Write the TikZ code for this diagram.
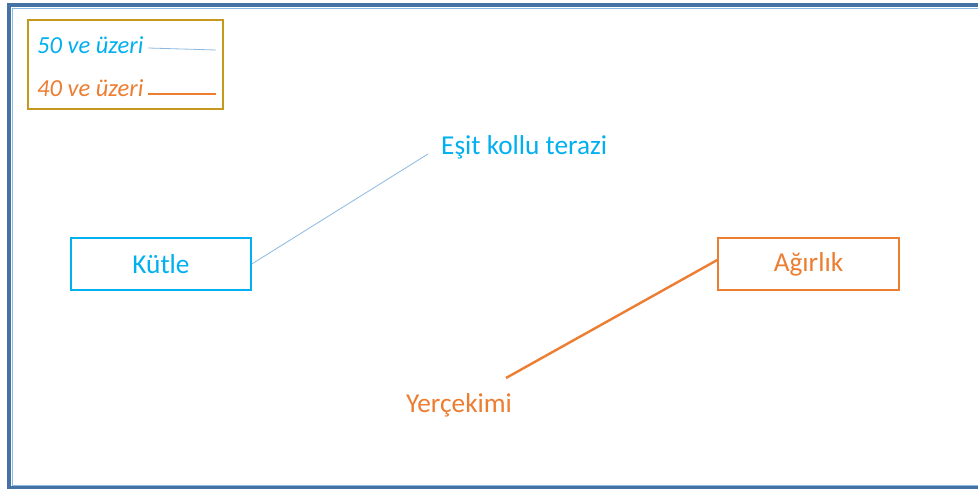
\documentclass[tikz,border=0pt]{standalone}
\usepackage{fontspec}
\setmainfont{Carlito}
\definecolor{tblue}{RGB}{0,176,240}
\definecolor{torange}{RGB}{237,125,49}
\definecolor{tgold}{RGB}{197,152,30}
\definecolor{tframe}{RGB}{68,114,164}
\definecolor{tthin}{RGB}{140,185,225}
\begin{document}
\begin{tikzpicture}[x=1pt,y=-1pt,
  bluebox/.style={draw=tblue,line width=1.5pt,minimum width=180pt,minimum height=52pt,text=tblue,font=\fontsize{27.3}{31}\selectfont,inner sep=0pt},
  orangebox/.style={draw=torange,line width=1.5pt,minimum width=181pt,minimum height=52pt,text=torange,font=\fontsize{27.3}{31}\selectfont,inner sep=0pt},
  lbl/.style={font=\fontsize{27.3}{31}\selectfont,inner sep=0pt},
  leg/.style={font=\itshape\fontsize{24.5}{28}\selectfont,inner sep=0pt,anchor=west}]
\useasboundingbox (0,0) rectangle (978,489);
\fill[white] (0,0) rectangle (978,489);
% outer frame
\fill[tframe] (7,3) rectangle (978,7);
\fill[tframe] (7,3) rectangle (11,489);
\fill[tframe] (7,486) rectangle (978,489);
\draw[tthin,line width=0.6pt] (12,8) -- (978,8);
\draw[tthin,line width=0.6pt] (12,8) -- (12,485);
\draw[tthin,line width=0.6pt] (12,485) -- (978,485);
% legend
\node[draw=tgold,line width=1.5pt,minimum width=195pt,minimum height=89pt,inner sep=0pt] (legend) at (125.5,64.5) {};
\node[leg,text=tblue] (l50) at (37,45) {50 ve üzeri};
\node[leg,text=torange] (l40) at (37,88) {40 ve üzeri};
\coordinate (b1) at (148,48);
\coordinate (b2) at (216,50);
\coordinate (o1) at (148,94);
\coordinate (o2) at (216,94);
\draw[tthin,line width=0.8pt] (b1) -- (b2);
\draw[torange,line width=2.2pt] (o1) -- (o2);
% nodes
\node[bluebox] (kutle) at (161,264) {Kütle};
\node[orangebox] (agirlik) at (808.5,264) {Ağırlık};
\node[lbl,text=tblue,anchor=west] (esit) at (441,147) {Eşit kollu terazi};
\node[lbl,text=torange] (yer) at (459,405) {Yerçekimi};
\coordinate (bend) at (428,154);
\coordinate (oend) at (506,378);
\draw[tthin,line width=0.8pt] (kutle.east) -- (bend);
\draw[torange,line width=2.4pt] ([yshift=4pt]agirlik.west) -- (oend);
\end{tikzpicture}
\end{document}
